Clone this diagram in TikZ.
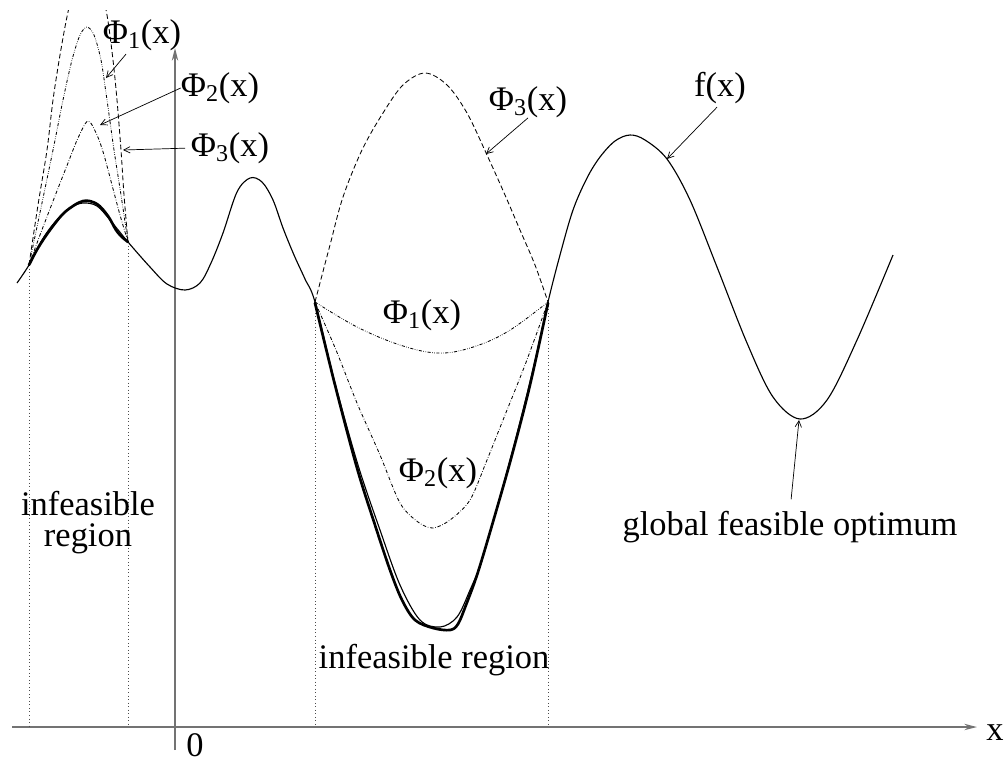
\documentclass[tikz,border=0pt]{standalone}
\usepackage{fontspec}
\setmainfont{Liberation Serif}
\usetikzlibrary{arrows.meta}

\begin{document}
\begin{tikzpicture}[
        x=0.025cm, y=-0.025cm,
        curve/.style={black, line width=0.8pt, line join=round},
        approx/.style={black, line width=1.9pt, line join=round, line cap=round},
        phione/.style={black, line width=0.6pt, dash pattern=on 2.2pt off 1.1pt on 0.4pt off 1.1pt on 0.4pt off 1.1pt},
        phitwo/.style={black, line width=0.6pt, dash pattern=on 2.4pt off 1.3pt on 0.4pt off 1.3pt},
        phithree/.style={black, line width=0.6pt, dash pattern=on 3.5pt off 2pt},
        guide/.style={black!70, line width=0.5pt, dotted},
        axis/.style={black!55, line width=1.1pt, -{Stealth[length=9pt,width=4.5pt]}},
        arrow/.style={black, line width=0.5pt, -{Straight Barb[length=4.5pt,width=4.5pt]}},
        lab/.style={font=\fontsize{24.5}{22}\selectfont, inner sep=0pt, align=center}
    ]
    \useasboundingbox (0,0) rectangle (1006,765);

    % Eixos
    \draw [axis] (12,727) -- (977,727);
    \draw [axis] (175,750) -- (175,48);
    \node (xlab)  [lab] at (995,733) {x};
    \node (zero)  [lab] at (195,745) {0};

    % Linhas de fronteira das regioes inviaveis
    \draw [guide] (29,265)  -- (29,727);
    \draw [guide] (128,242) -- (128,727);
    \draw [guide] (315,302) -- (315,727);
    \draw [guide] (548,302) -- (548,727);

    % Funcao objetivo f(x)
    \draw [curve] plot [smooth, tension=0.55] coordinates {
        (17,283) (29,265) (42,240) (55,222) (70,208) (83,203) (97,206) (110,220) (128,242)
        (150,267) (167,284) (185,290) (200,283) (211,263) (223,233) (237,192) (250,178)
        (262,182) (273,200) (283,228) (294,255) (305,279) (315,302) (335,383) (358,465)
        (380,530) (400,585) (420,620) (440,627) (457,617) (470,590) (482,560) (500,497)
        (518,430) (534,365) (548,302) (560,255) (573,210) (587,178) (600,157) (615,141)
        (630,135) (645,140) (667,159) (690,200) (717,267) (747,343) (773,397) (800,419)
        (827,400) (857,340) (893,255)};

    % Aproximacoes (traco grosso)
    \draw [approx] plot [smooth, tension=0.55] coordinates {
        (29,265) (38,248) (50,230) (65,212) (83,201) (97,204) (108,216) (116,230) (122,237) (128,242)};
    \draw [approx] plot [smooth, tension=0.55] coordinates {
        (315,303) (335,385) (357,468) (375,525) (390,570) (402,600) (415,620) (433,628)
        (450,630) (458,624) (466,605) (478,572) (495,515) (512,455) (530,385) (548,303)};

    % Subestimadores na regiao da esquerda
    \draw [phione] plot [smooth, tension=0.5] coordinates {
        (29,265) (52,155) (63,100) (72,60) (80,35) (87,27) (94,35) (101,60) (107,100) (114,150) (121,195) (128,242)};
    \draw [phitwo] plot [smooth, tension=0.5] coordinates {
        (29,265) (40,235) (55,196) (68,163) (78,138) (88,121) (97,135) (104,155) (112,185) (120,215) (128,242)};
    \begin{scope}
        \clip (0,10) rectangle (1006,765);
        \draw [phithree] plot [smooth, tension=0.5] coordinates {
            (29,265) (38,205) (47,150) (53,100) (60,55) (68,12) (78,-25) (88,-40) (98,-25)
            (107,15) (113,60) (117,100) (121,150) (124,195) (128,242)};
    \end{scope}

    % Subestimadores na regiao central
    \draw [phione] plot [smooth, tension=0.6] coordinates {
        (315,302) (357,327) (400,345) (437,353) (470,348) (507,332) (548,302)};
    \draw [phitwo] plot [smooth, tension=0.5] coordinates {
        (315,302) (336,350) (357,403) (380,455) (400,503) (418,522) (433,528) (450,520)
        (470,500) (487,460) (503,420) (525,365) (548,302)};
    \draw [phithree] plot [smooth, tension=0.55] coordinates {
        (315,302) (330,245) (343,197) (362,150) (383,113) (403,85) (425,73) (447,85)
        (467,113) (487,155) (505,195) (520,230) (535,265) (548,302)};

    % Rotulos
    \node (phiA) [lab] at (142,35)  {Φ\textsubscript{1}(x)};
    \node (phiB) [lab] at (220,88)  {Φ\textsubscript{2}(x)};
    \node (phiC) [lab] at (230,148) {Φ\textsubscript{3}(x)};
    \node (phiD) [lab] at (422,315) {Φ\textsubscript{1}(x)};
    \node (phiE) [lab] at (438,473) {Φ\textsubscript{2}(x)};
    \node (phiF) [lab] at (528,102) {Φ\textsubscript{3}(x)};
    \node (flab) [lab] at (720,88)  {f(x)};
    \node (glob) [lab, anchor=base] at (790,535) {global feasible optimum};
    \node (infl) [lab] at (88,523)  {infeasible\\region};
    \node (infm) [lab] at (434,660) {infeasible region};

    % Pontos indicados pelas setas
    \coordinate (tipA) at (106,78);
    \coordinate (tipB) at (100,125);
    \coordinate (tipC) at (123,150);
    \coordinate (tipF) at (486,154);
    \coordinate (tipf) at (667,159);
    \coordinate (tipg) at (799,420);

    % Setas dos rotulos
    \draw [arrow, shorten <=3pt] (phiA) -- (tipA);
    \draw [arrow] (phiB.west) -- (tipB);
    \draw [arrow, shorten <=4pt] (phiC.west) -- (tipC);
    \draw [arrow] (phiF.south) -- (tipF);
    \draw [arrow, shorten <=3pt] (flab.south) -- (tipf);
    \draw [arrow, shorten <=8pt] (glob.north) -- (tipg);

\end{tikzpicture}
\end{document}
